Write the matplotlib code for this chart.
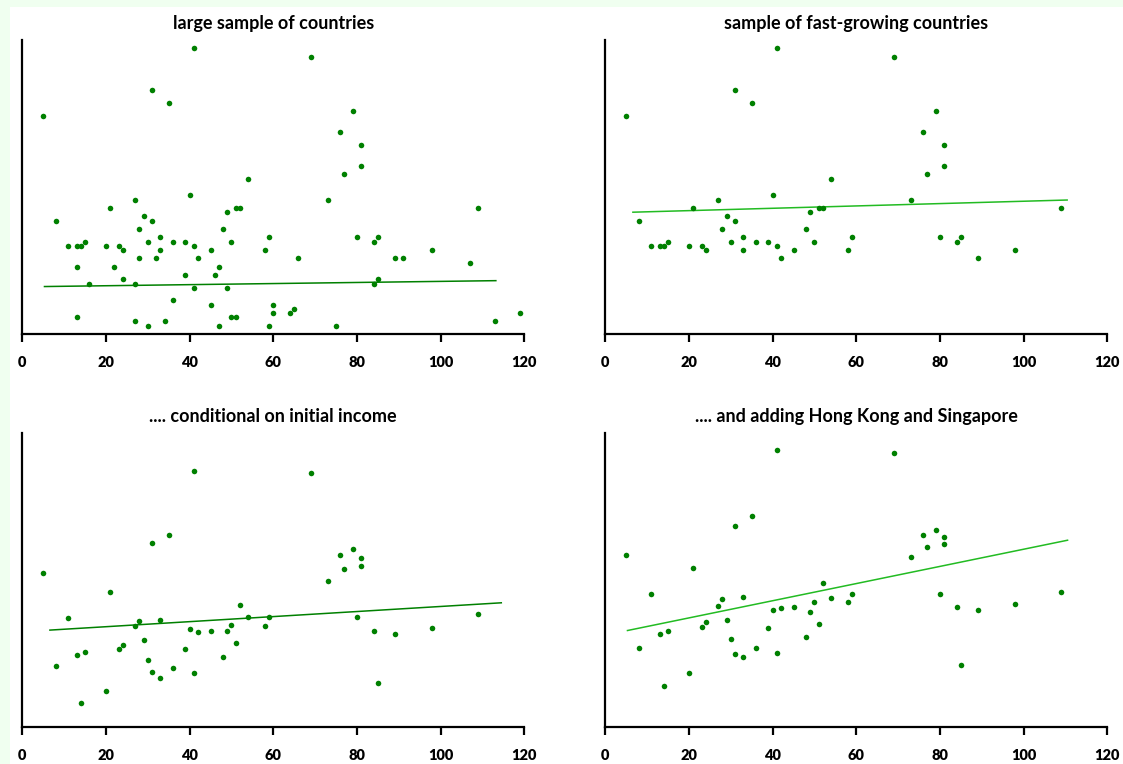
import matplotlib.pyplot as plt
from matplotlib.patches import Rectangle

# large sample of countries
x_large = [5, 41, 69, 31, 35, 79, 76, 81, 81, 77, 54, 40, 27, 73, 21, 51, 52, 109, 49, 29,
           8, 31, 28, 48, 33, 59, 80, 85, 15, 30, 36, 39, 50, 84, 11, 13, 14, 20, 23, 41,
           24, 33, 45, 58, 98, 28, 32, 42, 66, 89, 91, 107, 13, 22, 47, 39, 46, 24, 85, 16,
           27, 84, 41, 49, 36, 45, 60, 60, 65, 64, 119, 13, 50, 51, 27, 34, 113, 30, 47, 59, 75]
y_large = [52, 68, 66, 58, 55, 53, 48, 45, 40, 38, 37, 33, 32, 32, 30, 30, 30, 30, 29, 28,
           27, 27, 25, 25, 23, 23, 23, 23, 22, 22, 22, 22, 22, 22, 21, 21, 21, 21, 21, 21,
           20, 20, 20, 20, 20, 18, 18, 18, 18, 18, 18, 17, 16, 16, 16, 14, 14, 13, 13, 12,
           12, 12, 11, 11, 8, 7, 7, 5, 6, 5, 5, 4, 4, 4, 3, 3, 3, 2, 2, 2, 2]

# fast-growing subsample, same countries in the three other panels
x_fast = [5, 8, 11, 13, 14, 15, 20, 21, 23, 24, 27, 28, 29, 30, 31, 31, 33, 33, 35, 36,
          39, 40, 41, 41, 42, 45, 48, 49, 50, 51, 52, 54, 58, 59, 69, 73, 76, 77, 79, 80,
          81, 81, 84, 85, 89, 98, 109]
y_fast = [52, 27, 21, 21, 21, 22, 21, 30, 21, 20, 32, 25, 28, 22, 58, 27, 23, 20, 55, 22,
          22, 33, 68, 21, 18, 20, 25, 29, 22, 30, 30, 37, 20, 23, 66, 32, 48, 38, 53, 23,
          45, 40, 22, 23, 18, 20, 30]
y_cond = [36.7, 14.4, 25.9, 17.0, 5.6, 17.7, 8.5, 32.1, 18.4, 19.5, 24.0, 25.1, 20.6, 16.0,
          43.8, 13.1, 25.3, 11.7, 45.6, 14.0, 18.6, 23.3, 61.0, 12.9, 22.5, 22.8, 16.7, 22.7,
          24.2, 19.9, 29.0, 26.2, 23.9, 26.1, 60.3, 34.8, 40.8, 37.5, 42.4, 26.1, 40.1, 38.2,
          22.9, 10.5, 22.1, 23.6, 26.9]
y_hk = [40.8, 18.7, 31.7, 22.0, 9.8, 22.8, 12.8, 37.8, 23.7, 24.9, 28.7, 30.5, 25.5, 20.9,
        47.9, 17.2, 31.0, 16.5, 50.2, 18.7, 23.6, 27.8, 65.8, 17.5, 28.2, 28.5, 21.3, 27.4,
        29.8, 24.4, 34.3, 30.6, 29.7, 31.7, 65.2, 40.3, 45.6, 42.9, 46.8, 31.7, 45.1, 43.4,
        28.5, 14.7, 27.8, 29.3, 32.0]

# fitted lines (end points)
fit_large = ([5.3, 113.2], [11.3, 12.7])
fit_fast = ([6.6, 110.4], [29.0, 31.9])
fit_cond = ([6.6, 114.5], [23.0, 29.5])
fit_hk = ([5.3, 110.5], [22.9, 44.4])

titles = ["large sample of countries", "sample of fast-growing countries",
          ".... conditional on initial income", ".... and adding Hong Kong and Singapore"]
x_ticks = [0, 20, 40, 60, 80, 100, 120]

plt.rcParams['font.family'] = ['Lato', 'DejaVu Sans']

W, H = 1123, 764
fig = plt.figure(figsize=(W / 100, H / 100), dpi=100)
fig.patch.set_facecolor('#f0fff0')
fig.add_artist(Rectangle((10 / W, 0), 1, (H - 7) / H, transform=fig.transFigure,
                         facecolor='white', edgecolor='none', zorder=0))


def draw_panel(rect, xs, ys, fit, title, line_color):
    ax = fig.add_axes(rect)
    ax.set_facecolor('none')
    ax.scatter(xs, ys, s=16, color='#008000', linewidths=0, zorder=3, clip_on=False)
    ax.plot(fit[0], fit[1], color=line_color, lw=1.1, zorder=2)
    ax.set_xlim(0, 120)
    ax.set_ylim(0, 70)
    ax.set_xticks(x_ticks)
    ax.set_xticklabels([str(t) for t in x_ticks], fontsize=10.5, fontweight='heavy')
    ax.set_yticks([])
    ax.spines['top'].set_visible(False)
    ax.spines['right'].set_visible(False)
    ax.spines['left'].set_linewidth(1.6)
    ax.spines['bottom'].set_linewidth(1.6)
    ax.tick_params(axis='x', length=6, width=1.6, pad=10, direction='out')
    ax.set_title(title, fontsize=13, fontweight='bold', pad=8)
    return ax


aw, ah = 502 / W, 294 / H
left1, left2 = 22.3 / W, 605.3 / W
top_b, bot_b = (H - 334) / H, (H - 726.7) / H

draw_panel([left1, top_b, aw, ah], x_large, y_large, fit_large, titles[0], '#008000')
draw_panel([left2, top_b, aw, ah], x_fast, y_fast, fit_fast, titles[1], '#22bb22')
draw_panel([left1, bot_b, aw, ah], x_fast, y_cond, fit_cond, titles[2], '#008000')
draw_panel([left2, bot_b, aw, ah], x_fast, y_hk, fit_hk, titles[3], '#22bb22')

fig.savefig('out.png', dpi=100, facecolor=fig.get_facecolor())
